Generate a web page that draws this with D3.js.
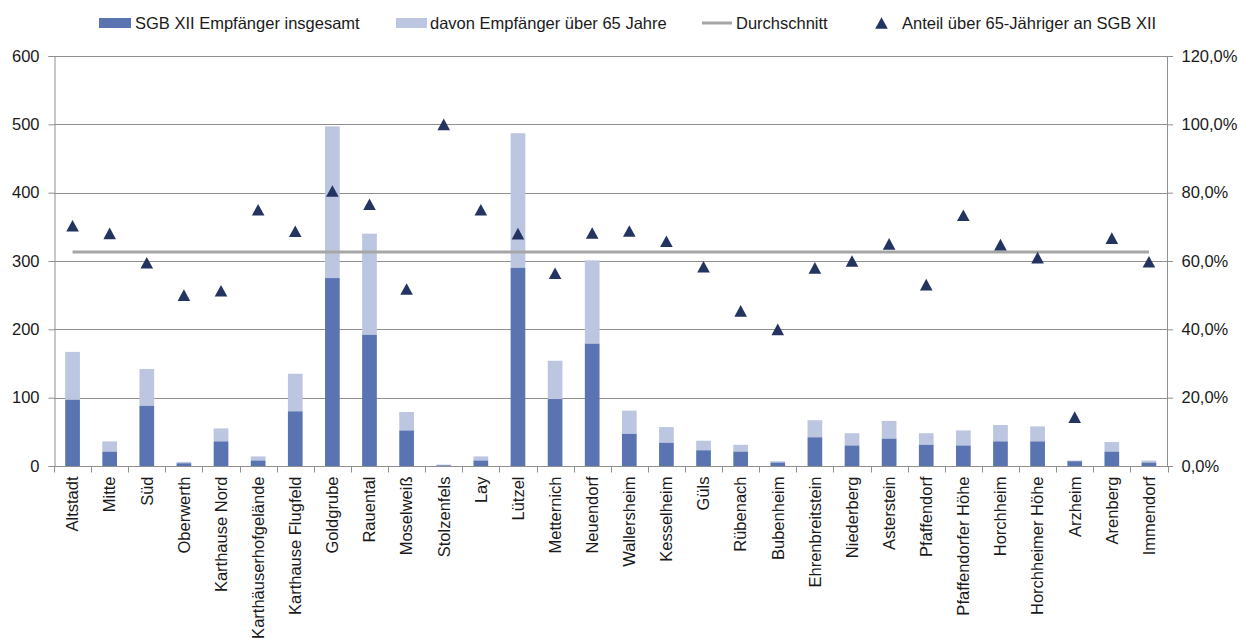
<!DOCTYPE html>
<html>
<head>
<meta charset="utf-8">
<script src="https://cdn.jsdelivr.net/npm/d3@7"></script>
<style>
  html, body { margin: 0; padding: 0; background: #fff; }
  svg { display: block; font-family: "Liberation Sans", Arial, sans-serif; }
</style>
</head>
<body>
<svg id="chart" width="1238" height="638"></svg>
<script>
const categories = ["Altstadt","Mitte","Süd","Oberwerth","Karthause Nord","Karthäuserhofgelände","Karthause Flugfeld","Goldgrube","Rauental","Moselweiß","Stolzenfels","Lay","Lützel","Metternich","Neuendorf","Wallersheim","Kesselheim","Güls","Rübenach","Bubenheim","Ehrenbreitstein","Niederberg","Asterstein","Pfaffendorf","Pfaffendorfer Höhe","Horchheim","Horchheimer Höhe","Arzheim","Arenberg","Immendorf"];
const totalValues = [97, 21, 88, 4, 36, 8, 80, 275, 192, 52, 1, 8, 290, 98, 179, 47, 34, 23, 21, 5, 42, 30, 40, 31, 30, 36, 36, 7, 21, 5];
const over65Values = [70, 15, 54, 2, 19, 6, 55, 222, 148, 27, 1, 6, 197, 56, 122, 34, 23, 14, 10, 2, 25, 18, 26, 17, 22, 24, 22, 1, 14, 3];
const shareValues = [0.703, 0.681, 0.595, 0.500, 0.513, 0.750, 0.687, 0.805, 0.766, 0.518, 1.000, 0.750, 0.680, 0.564, 0.682, 0.688, 0.658, 0.583, 0.454, 0.400, 0.580, 0.600, 0.650, 0.531, 0.734, 0.648, 0.610, 0.143, 0.667, 0.598];
const averageShare = 0.626;
const leftTicks = [0, 100, 200, 300, 400, 500, 600];
const rightTicks = [0, 0.2, 0.4, 0.6, 0.8, 1.0, 1.2];
const legendLabels = ["SGB XII Empfänger insgesamt", "davon Empfänger über 65 Jahre", "Durchschnitt", "Anteil über 65-Jähriger an SGB XII"];

const colors = { dark: "#5a73b1", light: "#bcc6e1", avg: "#a6a6a6", tri: "#243461", grid: "#8f8f8f", text: "#1a1a1a" };
const FS = "16.5px";

const svg = d3.select("#chart");
const W = 1238, H = 638;
const m = { left: 54, right: 70.5, top: 56, bottom: 172 };
const x0 = m.left, x1 = W - m.right, yTop = m.top, yBot = H - m.bottom;

const x = d3.scaleBand().domain(categories).range([x0, x1]).padding(0);
const y = d3.scaleLinear().domain([0, 600]).range([yBot, yTop]);
const yR = d3.scaleLinear().domain([0, 1.2]).range([yBot, yTop]);
const de = d3.formatLocale({ decimal: ",", thousands: ".", grouping: [3], currency: ["", " €"] });
const pctFmt = de.format(".1%");

// gridlines
svg.append("g").selectAll("line").data(leftTicks.filter(d => d > 0)).join("line")
  .attr("x1", x0).attr("x2", x1)
  .attr("y1", d => Math.round(y(d)) + 0.5).attr("y2", d => Math.round(y(d)) + 0.5)
  .attr("stroke", colors.grid).attr("stroke-width", 1);

// bars
const barW = 14.7;
const bars = svg.append("g");
categories.forEach((c, i) => {
  const cx = x(c) + x.bandwidth() / 2;
  const t = totalValues[i], o = over65Values[i];
  bars.append("rect").attr("x", cx - barW / 2).attr("width", barW)
    .attr("y", y(t + o)).attr("height", y(t) - y(t + o)).attr("fill", colors.light);
  bars.append("rect").attr("x", cx - barW / 2).attr("width", barW)
    .attr("y", y(t)).attr("height", y(0) - y(t)).attr("fill", colors.dark);
});

// left axis
const leftAxis = d3.axisLeft(y).tickValues(leftTicks).tickSize(6).tickPadding(9).tickFormat(d3.format("d"));
const gL = svg.append("g").attr("transform", `translate(${x0 + 0.5},0)`).call(leftAxis);
// right axis
const rightAxis = d3.axisRight(yR).tickValues(rightTicks).tickSize(6).tickPadding(8.5).tickFormat(pctFmt);
const gR = svg.append("g").attr("transform", `translate(${x1 - 0.5},0)`).call(rightAxis);
[gL, gR].forEach(g => {
  g.select(".domain").attr("stroke", colors.grid);
  g.selectAll(".tick line").attr("stroke", colors.grid);
  g.selectAll(".tick text").attr("fill", colors.text).style("font-size", FS);
});

// x axis
const gX = svg.append("g").attr("transform", `translate(0,${Math.round(yBot) + 0.5})`);
gX.append("line").attr("x1", x0).attr("x2", x1).attr("stroke", colors.grid);
const boundaries = categories.map(c => x(c)).concat([x1]);
gX.selectAll("line.tk").data(boundaries).join("line").attr("class", "tk")
  .attr("x1", d => Math.round(d) + 0.5).attr("x2", d => Math.round(d) + 0.5)
  .attr("y1", 0).attr("y2", 6).attr("stroke", colors.grid);
gX.selectAll("text").data(categories).join("text")
  .attr("transform", d => `translate(${x(d) + x.bandwidth() / 2 + 5.8},10) rotate(-90)`)
  .attr("text-anchor", "end")
  .attr("fill", colors.text).style("font-size", FS)
  .text(d => d);

// average line
const firstC = x(categories[0]) + x.bandwidth() / 2;
const lastC = x(categories[categories.length - 1]) + x.bandwidth() / 2;
svg.append("line").attr("x1", firstC).attr("x2", lastC)
  .attr("y1", yR(averageShare)).attr("y2", yR(averageShare))
  .attr("stroke", colors.avg).attr("stroke-width", 3);

// triangles
const tw = 12.6, th = 11.6;
const triPath = `M0,${-th/2}L${tw/2},${th/2}L${-tw/2},${th/2}Z`;
svg.append("g").selectAll("path").data(categories).join("path")
  .attr("d", triPath)
  .attr("transform", (d, i) => `translate(${x(d) + x.bandwidth() / 2},${yR(shareValues[i])})`)
  .attr("fill", colors.tri);

// legend
const lg = svg.append("g").style("font-size", FS).attr("fill", colors.text);
const ly = 23;
lg.append("rect").attr("x", 99).attr("y", ly - 5).attr("width", 32).attr("height", 10).attr("fill", colors.dark);
lg.append("text").attr("x", 135).attr("y", ly).attr("dy", "0.35em").text(legendLabels[0]);
lg.append("rect").attr("x", 396).attr("y", ly - 5).attr("width", 31).attr("height", 10).attr("fill", colors.light);
lg.append("text").attr("x", 430).attr("y", ly).attr("dy", "0.35em").text(legendLabels[1]);
lg.append("line").attr("x1", 702).attr("x2", 732).attr("y1", ly).attr("y2", ly).attr("stroke", colors.avg).attr("stroke-width", 3);
lg.append("text").attr("x", 736).attr("y", ly).attr("dy", "0.35em").text(legendLabels[2]);
lg.append("path").attr("d", triPath).attr("transform", `translate(881.5,${ly})`).attr("fill", colors.tri);
lg.append("text").attr("x", 902).attr("y", ly).attr("dy", "0.35em").text(legendLabels[3]);
</script>
</body>
</html>
